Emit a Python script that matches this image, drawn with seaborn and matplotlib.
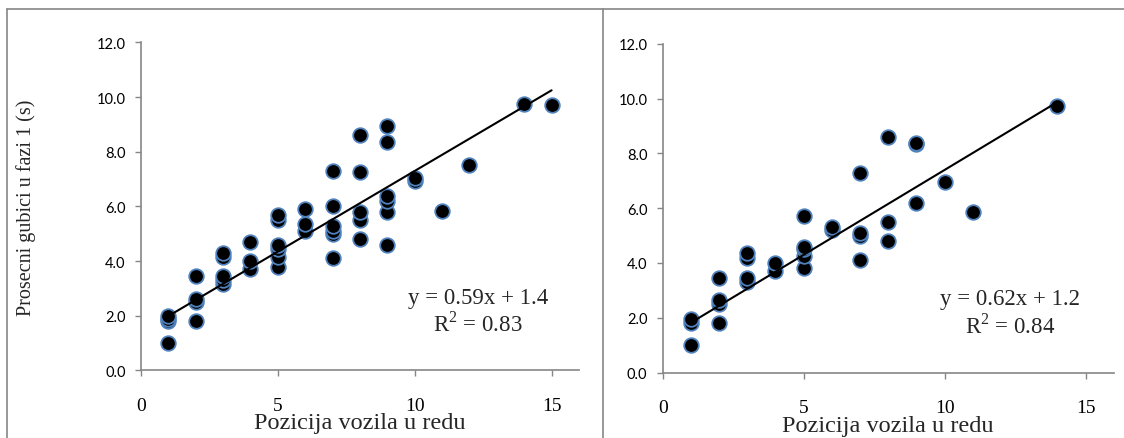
import matplotlib

matplotlib.use("Agg")
import matplotlib.pyplot as plt
import numpy as np
import pandas as pd
import seaborn as sns
from matplotlib.lines import Line2D

# vehicle position in queue / mean loss in phase 1 (s), all vehicles
left_pos = [1, 1, 1, 1, 2, 2, 2, 2, 3, 3, 3, 3, 3, 4, 4, 4,
            5, 5, 5, 5, 5, 5, 6, 6, 6, 7, 7, 7, 7, 7, 7,
            8, 8, 8, 8, 8, 9, 9, 9, 9, 9, 9, 10, 10, 11, 12, 14, 15]
left_loss = [1.0, 1.8, 1.9, 2.0, 1.8, 2.5, 2.6, 3.45, 3.15, 3.3, 3.45, 4.15, 4.3,
             3.7, 4.0, 4.7, 3.8, 4.15, 4.45, 4.6, 5.5, 5.7, 5.1, 5.35, 5.9,
             4.1, 5.0, 5.1, 5.3, 6.0, 7.3, 4.8, 5.5, 5.8, 7.25, 8.6,
             4.6, 5.8, 6.2, 6.4, 8.35, 8.95, 6.95, 7.05, 5.85, 7.5, 9.75, 9.7]

right_pos = [1, 1, 1, 2, 2, 2, 2, 3, 3, 3, 3, 4, 4, 5, 5, 5, 5, 5,
             6, 6, 7, 7, 7, 7, 8, 8, 8, 9, 9, 9, 10, 11, 14]
right_loss = [1.0, 1.8, 1.95, 1.8, 2.5, 2.65, 3.45, 3.3, 3.45, 4.2, 4.35,
              3.7, 4.0, 3.8, 4.25, 4.5, 4.6, 5.7, 5.2, 5.3,
              4.1, 5.0, 5.1, 7.3, 4.8, 5.5, 8.6, 6.2, 8.35, 8.4, 6.95, 5.85, 9.75]

# linear trend lines as printed on the chart
slopes = [0.59, 0.62]
intercepts = [1.4, 1.2]
equations = ["y = 0.59x + 1.4", "y = 0.62x + 1.2"]
r_squared = ["R$^2$ = 0.83", "R$^2$ = 0.84"]
x_ticks = [0, 5, 10, 15]
y_ticks = [0, 2, 4, 6, 8, 10, 12]

X_LABEL = "Pozicija vozila u redu"
Y_LABEL = "Prosecni gubici u fazi 1 (s)"

SERIF = ["Liberation Serif", "DejaVu Serif"]
SANS = ["Lato", "DejaVu Sans"]
GREY = "#868686"

sns.set_style("white")
plt.rcParams["font.family"] = SANS
plt.rcParams["mathtext.fontset"] = "custom"
plt.rcParams["mathtext.rm"] = "Liberation Serif"

fig = plt.figure(figsize=(11.24, 4.39), dpi=100)
ax_left = fig.add_axes([0.1254, 0.1538, 0.3897, 0.7472])
ax_right = fig.add_axes([0.5896, 0.1492, 0.4013, 0.7483])

panels = [
    (ax_left, left_pos, left_loss, 0),
    (ax_right, right_pos, right_loss, 1),
]

for ax, pos, loss, i in panels:
    df = pd.DataFrame({"pos": pos, "loss": loss})
    sns.scatterplot(
        data=df, x="pos", y="loss", ax=ax, s=110, color="black",
        edgecolor="#4F81BD", linewidth=1.3, zorder=3,
    )
    trend_x = np.array([min(pos), max(pos)])
    trend = pd.DataFrame({"pos": trend_x, "loss": slopes[i] * trend_x + intercepts[i]})
    sns.lineplot(data=trend, x="pos", y="loss", ax=ax, color="black", lw=1.5, zorder=4)

    ax.set_xlim(0, 16)
    ax.set_ylim(0, 12)
    ax.set_xticks(x_ticks)
    ax.set_yticks(y_ticks)
    ax.set_yticklabels([f"{v:.1f}" for v in y_ticks])
    ax.tick_params(axis="both", colors=GREY, labelcolor="black",
                   length=4, width=1, direction="out", left=True, bottom=True)
    ax.tick_params(axis="x", pad=15, labelsize=14, labelfontfamily=SERIF[0])
    ax.tick_params(axis="y", pad=7, labelsize=10.5)
    for side in ("top", "right"):
        ax.spines[side].set_visible(False)
    for side in ("left", "bottom"):
        ax.spines[side].set_color(GREY)
        ax.spines[side].set_linewidth(1.2)
    ax.set_xlabel(X_LABEL, family=SERIF, fontsize=17.5, labelpad=-1)
    ax.set_ylabel("")
    ax.text(0.77, 0.224, equations[i], transform=ax.transAxes, ha="center",
            va="center", family=SERIF, fontsize=16.5)
    ax.text(0.77, 0.145, r_squared[i], transform=ax.transAxes, ha="center",
            va="center", family=SERIF, fontsize=16.5)

ax_left.set_ylabel(Y_LABEL, family=SERIF, fontsize=14.5)
ax_left.yaxis.set_label_coords(-0.24, 0.5)

# chart area borders
fig.add_artist(Line2D([7 / 1124, 7 / 1124], [0, 1 - 10 / 439], color=GREY, lw=1.2))
fig.add_artist(Line2D([7 / 1124, 1], [1 - 10 / 439, 1 - 10 / 439], color=GREY, lw=1.2))
fig.add_artist(Line2D([603 / 1124, 603 / 1124], [0, 1 - 10 / 439], color=GREY, lw=1.2))

fig.savefig("out.png", dpi=100, facecolor="white")
